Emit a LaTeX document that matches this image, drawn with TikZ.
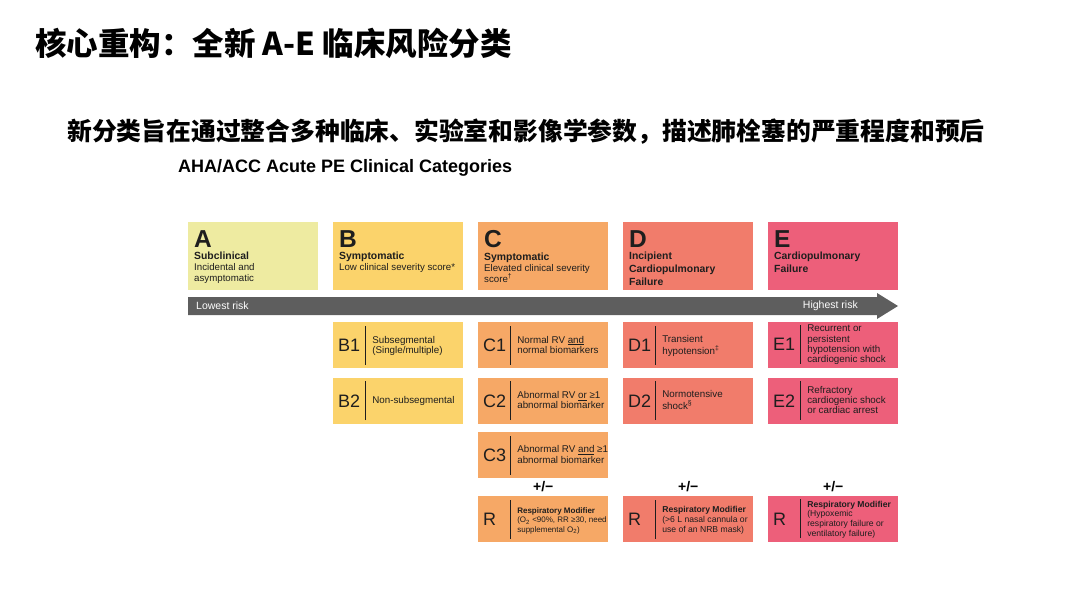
\documentclass[tikz,border=0pt]{standalone}
\usepackage{fontspec}
\setmainfont{Liberation Sans}
\newfontfamily\cjk{Noto Sans CJK SC}
\usepackage{xcolor}
\usepackage{tikz}
\usetikzlibrary{positioning}

\definecolor{catA}{HTML}{EEEBA1}
\definecolor{catB}{HTML}{FBD36B}
\definecolor{catC}{HTML}{F6A866}
\definecolor{catD}{HTML}{F17C6B}
\definecolor{catE}{HTML}{ED5F7A}
\definecolor{riskgray}{HTML}{5E5E5E}
\definecolor{ink}{HTML}{1E1E1E}

% top box: letter, heading, description
\newcommand{\cathead}[3]{\parbox[c][52pt][t]{118pt}{\raggedright\fontsize{24.5}{24}\selectfont\bfseries #1\par
  \fontsize{10.4}{12.8}\selectfont #2\par
  \mdseries\fontsize{9.7}{11}\selectfont #3}}
% sub box: code | description
\newcommand{\subrow}[3][\fontsize{9.8}{10.3}\selectfont]{\makebox[27pt][l]{\fontsize{18}{18}\selectfont #2}%
  \rule[-13pt]{1.2pt}{39pt}\hspace{6pt}%
  \raisebox{3pt}{#1\makebox[86pt][l]{\begin{tabular}[c]{@{}l@{}}#3\end{tabular}}}}

\begin{document}
\begin{tikzpicture}[x=1pt, y=-1pt]
  % Styles
  \tikzstyle{catbox} = [anchor=north west, minimum width=130pt, minimum height=68pt, inner sep=0pt, text=ink]
  \tikzstyle{subbox} = [anchor=north west, minimum width=130pt, minimum height=46pt, inner sep=0pt, text=ink]
  \tikzstyle{riskfont} = [text=white, inner sep=0pt, font=\fontsize{10.5}{12}\selectfont]
  \tikzstyle{plusminus} = [inner sep=0pt, font=\bfseries\fontsize{14}{14}\selectfont]

  \useasboundingbox (0,0) rectangle (1080,605);

  % Headings
  \node (title) [anchor=west, inner sep=0pt, font=\cjk\bfseries\fontsize{31.5}{31.5}\selectfont] at (35,43) {核心重构：全新 A-E 临床风险分类};
  \node (subtitle) [anchor=west, inner sep=0pt, font=\cjk\bfseries\fontsize{24.8}{24.8}\selectfont] at (67,132) {新分类旨在通过整合多种临床、实验室和影像学参数，描述肺栓塞的严重程度和预后};
  \node (chart) [anchor=west, inner sep=0pt, font=\bfseries\fontsize{18}{18}\selectfont] at (178,168) {AHA/ACC Acute PE Clinical Categories};

  % Categories
  \node (A) [catbox, fill=catA] at (188,222) {\cathead{A}{Subclinical}{Incidental and\\asymptomatic}};
  \node (B) [catbox, fill=catB] at (333,222) {\cathead{B}{Symptomatic}{Low clinical severity score*}};
  \node (C) [catbox, fill=catC] at (478,222) {\cathead{C}{Symptomatic}{Elevated clinical severity score\textsuperscript{†}}};
  \node (D) [catbox, fill=catD] at (623,222) {\cathead{D}{Incipient\\Cardiopulmonary\\Failure}{}};
  \node (E) [catbox, fill=catE] at (768,222) {\cathead{E}{Cardiopulmonary\\Failure}{}};

  % Risk arrow
  \fill [riskgray] (188,297) -- (877,297) -- (877,293) -- (898,306) -- (877,319) -- (877,315) -- (188,315) -- cycle;
  \node (low) [riskfont, anchor=west] at (196,306) {Lowest risk};
  \node (high) [riskfont, anchor=east] at (858,306) {Highest risk};

  % Subcategories
  \node (B1) [subbox, fill=catB] at (333,322) {\subrow{B1}{Subsegmental\\(Single/multiple)}};
  \node (B2) [subbox, fill=catB, below=9pt of B1] {\subrow{B2}{Non-subsegmental}};
  \node (C1) [subbox, fill=catC] at (478,322) {\subrow{C1}{Normal RV \underline{and}\\normal biomarkers}};
  \node (C2) [subbox, fill=catC, below=9pt of C1] {\subrow{C2}{Abnormal RV \underline{or} ≥1\\abnormal biomarker}};
  \node (C3) [subbox, fill=catC, below=8pt of C2] {\subrow{C3}{Abnormal RV \underline{and} ≥1\\abnormal biomarker}};
  \node (D1) [subbox, fill=catD] at (623,322) {\subrow{D1}{Transient\\hypotension\textsuperscript{‡}}};
  \node (D2) [subbox, fill=catD, below=9pt of D1] {\subrow{D2}{Normotensive\\shock\textsuperscript{§}}};
  \node (E1) [subbox, fill=catE] at (768,322) {\subrow{E1}{Recurrent or\\persistent\\hypotension with\\cardiogenic shock}};
  \node (E2) [subbox, fill=catE, below=9pt of E1] {\subrow{E2}{Refractory\\cardiogenic shock\\or cardiac arrest}};

  % Respiratory modifiers
  \node (RC) [subbox, fill=catC] at (478,496) {\subrow[\fontsize{8}{9.5}\selectfont]{R}{\textbf{Respiratory Modifier}\\(O\textsubscript{2} <90\%, RR ≥30, need\\supplemental O\textsubscript{2})}};
  \node (RD) [subbox, fill=catD] at (623,496) {\subrow[\fontsize{8.6}{9.8}\selectfont]{R}{\textbf{Respiratory Modifier}\\(>6 L nasal cannula or\\use of an NRB mask)}};
  \node (RE) [subbox, fill=catE] at (768,496) {\subrow[\fontsize{8.6}{9.8}\selectfont]{R}{\textbf{Respiratory Modifier}\\(Hypoxemic\\respiratory failure or\\ventilatory failure)}};
  \node (pmC) [plusminus, above=4pt of RC] {+/−};
  \node (pmD) [plusminus, above=4pt of RD] {+/−};
  \node (pmE) [plusminus, above=4pt of RE] {+/−};
\end{tikzpicture}
\end{document}
